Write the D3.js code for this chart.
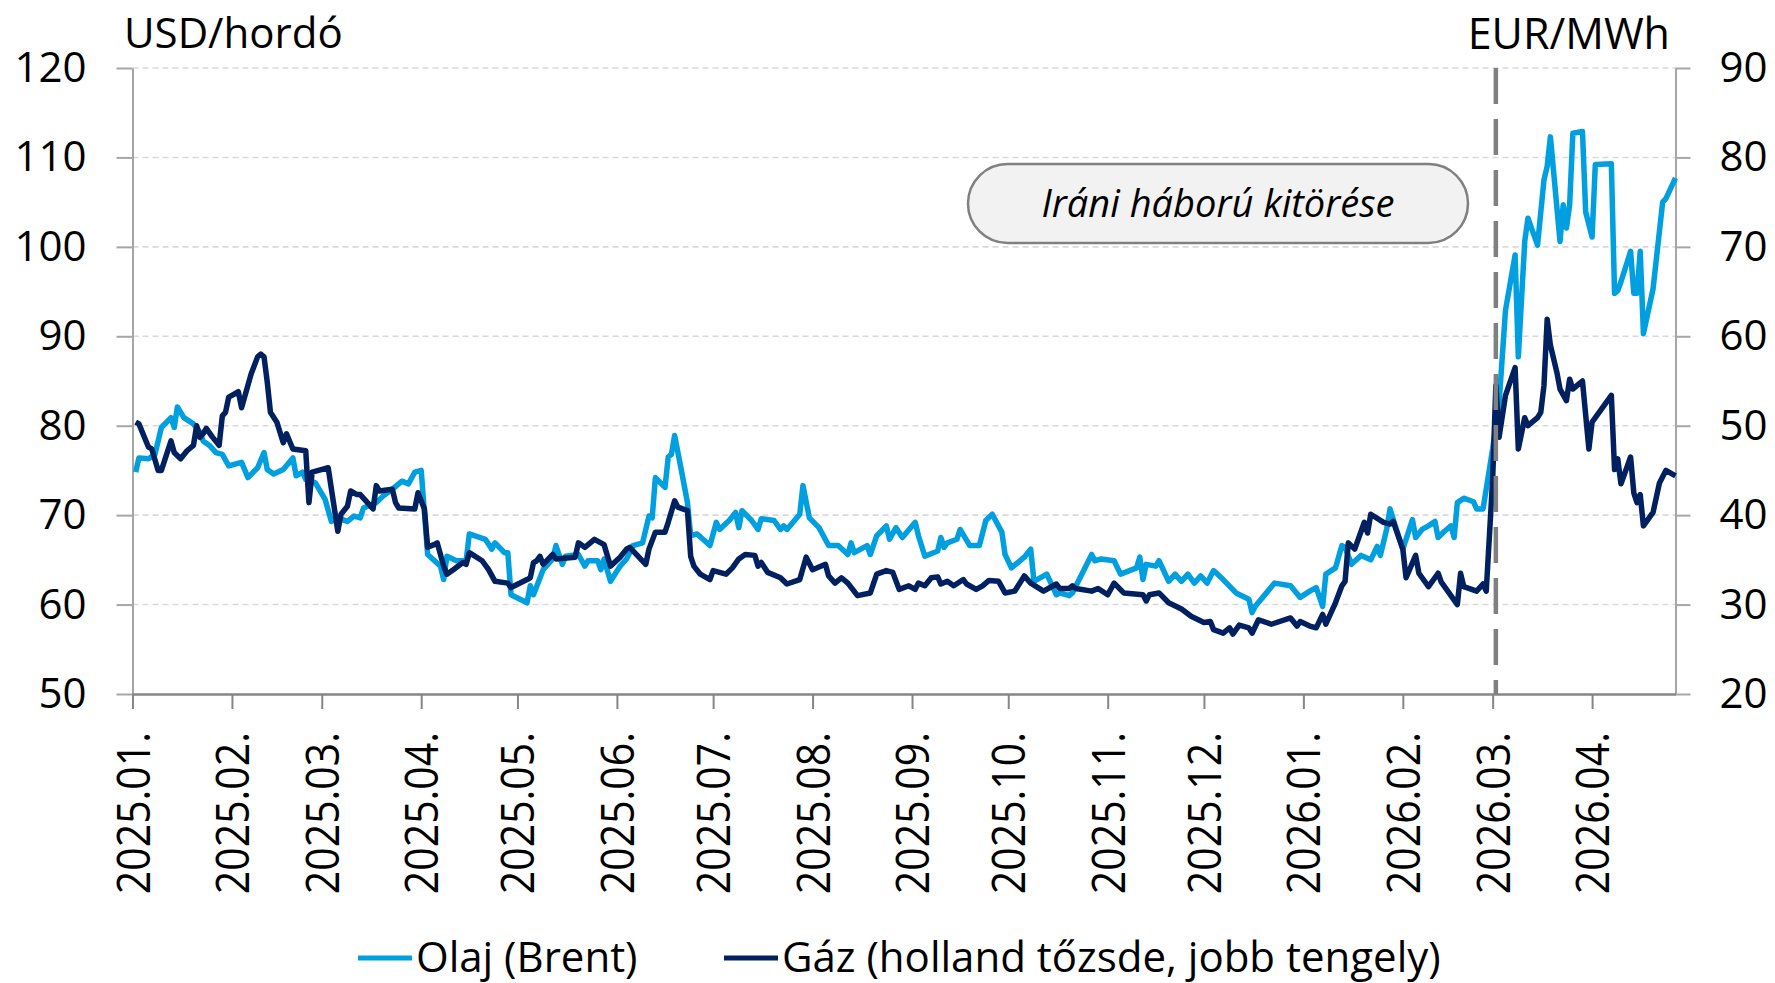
<!DOCTYPE html>
<html>
<head>
<meta charset="utf-8">
<script src="https://cdn.jsdelivr.net/npm/d3@7"></script>
<style>
  body { margin: 0; background: #fff; }
  svg { display: block; font-family: "Open Sans", sans-serif; }
</style>
</head>
<body>
<div id="chart"></div>
<script>
// Brent, USD/hordó (left axis)
const oilData = [
  ["2025-01-02",74.8],["2025-01-03",76.4],["2025-01-06",76.3],["2025-01-08",76.8],["2025-01-10",79.8],
  ["2025-01-13",80.9],["2025-01-14",79.8],["2025-01-15",82.1],["2025-01-17",80.9],["2025-01-20",80.2],
  ["2025-01-22",79.3],["2025-01-23",78.3],["2025-01-25",77.8],["2025-01-27",77.0],["2025-01-29",76.8],
  ["2025-01-31",75.5],["2025-02-04",75.9],["2025-02-06",74.2],["2025-02-09",75.3],["2025-02-11",77.0],
  ["2025-02-12",75.1],["2025-02-14",74.6],["2025-02-17",75.1],["2025-02-20",76.4],["2025-02-21",74.4],
  ["2025-02-23",74.8],["2025-02-24",74.0],["2025-02-27",73.6],["2025-03-02",71.8],["2025-03-04",69.3],
  ["2025-03-06",69.7],["2025-03-09",69.3],["2025-03-11",69.9],["2025-03-13",69.7],["2025-03-14",70.8],
  ["2025-03-18",71.4],["2025-03-20",72.1],["2025-03-23",72.9],["2025-03-26",73.8],["2025-03-28",73.5],
  ["2025-03-30",74.8],["2025-04-01",75.0],["2025-04-03",65.6],["2025-04-07",64.3],["2025-04-08",62.8],
  ["2025-04-09",65.4],["2025-04-12",64.9],["2025-04-15",64.9],["2025-04-16",67.9],["2025-04-21",67.3],
  ["2025-04-23",66.2],["2025-04-24",66.9],["2025-04-27",65.8],["2025-04-28",65.8],["2025-04-29",61.1],
  ["2025-05-04",60.2],["2025-05-05",62.1],["2025-05-06",61.1],["2025-05-09",63.9],["2025-05-12",65.1],
  ["2025-05-13",66.6],["2025-05-15",64.5],["2025-05-16",65.4],["2025-05-20",65.6],["2025-05-22",64.3],
  ["2025-05-23",64.9],["2025-05-26",64.9],["2025-05-27",63.9],["2025-05-28",65.1],["2025-05-30",62.6],
  ["2025-06-02",64.3],["2025-06-04",65.1],["2025-06-05",65.8],["2025-06-06",66.6],["2025-06-09",66.9],
  ["2025-06-11",69.9],["2025-06-12",69.7],["2025-06-13",74.2],["2025-06-16",73.1],["2025-06-17",76.5],
  ["2025-06-18",76.8],["2025-06-19",78.9],["2025-06-21",75.2],["2025-06-23",71.4],["2025-06-24",67.7],
  ["2025-06-26",67.9],["2025-06-30",66.6],["2025-07-02",69.2],["2025-07-03",68.4],["2025-07-06",69.4],
  ["2025-07-08",70.3],["2025-07-09",68.6],["2025-07-10",70.5],["2025-07-13",69.4],["2025-07-15",68.4],
  ["2025-07-16",69.6],["2025-07-20",69.4],["2025-07-22",68.4],["2025-07-23",68.8],["2025-07-24",68.4],
  ["2025-07-28",70.1],["2025-07-29",73.3],["2025-07-31",69.7],["2025-08-03",68.6],["2025-08-06",66.6],
  ["2025-08-09",66.6],["2025-08-12",65.6],["2025-08-13",66.9],["2025-08-14",65.8],["2025-08-18",66.6],
  ["2025-08-19",65.6],["2025-08-21",67.7],["2025-08-24",68.8],["2025-08-25",67.3],["2025-08-27",68.6],
  ["2025-08-29",67.5],["2025-09-02",69.2],["2025-09-03",67.7],["2025-09-05",65.4],["2025-09-09",66.0],
  ["2025-09-10",67.5],["2025-09-11",66.4],["2025-09-12",66.9],["2025-09-15",67.3],["2025-09-16",68.4],
  ["2025-09-19",66.6],["2025-09-22",66.6],["2025-09-24",69.4],["2025-09-26",70.1],["2025-09-29",68.1],
  ["2025-09-30",65.6],["2025-10-02",64.1],["2025-10-06",65.3],["2025-10-08",66.2],["2025-10-09",62.6],
  ["2025-10-13",63.4],["2025-10-16",61.1],["2025-10-17",61.3],["2025-10-20",61.0],["2025-10-21",61.3],
  ["2025-10-27",65.6],["2025-10-28",64.9],["2025-10-30",65.1],["2025-11-03",64.9],["2025-11-05",63.4],
  ["2025-11-10",64.1],["2025-11-11",65.3],["2025-11-12",62.8],["2025-11-13",64.5],["2025-11-16",64.3],
  ["2025-11-17",64.9],["2025-11-20",62.6],["2025-11-22",63.4],["2025-11-24",62.6],["2025-11-26",63.4],
  ["2025-11-28",62.4],["2025-11-30",63.2],["2025-12-02",62.4],["2025-12-04",63.8],["2025-12-07",62.8],
  ["2025-12-11",61.3],["2025-12-15",60.6],["2025-12-16",59.1],["2025-12-17",59.8],["2025-12-23",62.4],
  ["2025-12-28",62.1],["2025-12-31",60.8],["2026-01-03",61.5],["2026-01-05",61.9],["2026-01-07",59.8],
  ["2026-01-08",63.4],["2026-01-11",64.1],["2026-01-13",66.6],["2026-01-14",66.4],["2026-01-16",64.5],
  ["2026-01-19",65.5],["2026-01-22",65.0],["2026-01-24",66.5],["2026-01-25",65.5],["2026-01-27",68.5],
  ["2026-01-28",70.7],["2026-01-30",68.4],["2026-02-01",66.2],["2026-02-04",69.5],["2026-02-05",67.5],
  ["2026-02-07",68.4],["2026-02-09",68.8],["2026-02-11",69.3],["2026-02-12",67.5],["2026-02-14",68.2],
  ["2026-02-16",68.8],["2026-02-17",67.5],["2026-02-18",71.4],["2026-02-20",71.9],["2026-02-23",71.5],
  ["2026-02-24",70.7],["2026-02-26",70.7],["2026-03-01",77.4],["2026-03-02",80.0],["2026-03-03",82.5],
  ["2026-03-05",92.9],["2026-03-08",99.1],["2026-03-09",87.7],["2026-03-11",100.6],["2026-03-12",103.2],
  ["2026-03-15",100.2],["2026-03-17",107.5],["2026-03-18",109.0],["2026-03-19",112.3],["2026-03-22",100.6],
  ["2026-03-23",104.7],["2026-03-24",102.1],["2026-03-25",104.7],["2026-03-26",112.7],["2026-03-29",112.9],
  ["2026-03-30",103.9],["2026-04-01",101.1],["2026-04-02",109.2],["2026-04-07",109.3],["2026-04-08",94.8],
  ["2026-04-09",95.1],["2026-04-10",96.1],["2026-04-13",99.5],["2026-04-14",94.8],["2026-04-15",94.8],
  ["2026-04-16",99.5],["2026-04-17",90.3],["2026-04-20",95.3],["2026-04-23",105.0],["2026-04-24",105.4],
  ["2026-04-27",107.7]
];

// Dutch TTF gas, EUR/MWh (right axis)
const gasData = [
  ["2025-01-02",50.4],["2025-01-03",50.2],["2025-01-06",47.6],["2025-01-07",47.4],["2025-01-09",45.0],
  ["2025-01-10",45.0],["2025-01-13",48.3],["2025-01-14",47.0],["2025-01-16",46.3],["2025-01-18",47.2],
  ["2025-01-20",47.8],["2025-01-21",50.0],["2025-01-22",48.7],["2025-01-23",49.1],["2025-01-24",49.7],
  ["2025-01-26",48.7],["2025-01-28",47.8],["2025-01-29",51.1],["2025-01-30",51.5],["2025-01-31",53.2],
  ["2025-02-01",53.4],["2025-02-03",53.8],["2025-02-04",52.0],["2025-02-07",55.8],["2025-02-09",57.7],
  ["2025-02-10",58.0],["2025-02-11",57.7],["2025-02-12",54.9],["2025-02-13",51.5],["2025-02-15",50.4],
  ["2025-02-17",48.1],["2025-02-18",49.1],["2025-02-20",47.4],["2025-02-24",47.2],["2025-02-25",41.4],
  ["2025-02-26",44.8],["2025-02-28",45.0],["2025-03-03",45.3],["2025-03-06",38.2],["2025-03-07",40.1],
  ["2025-03-09",41.0],["2025-03-10",42.7],["2025-03-12",42.3],["2025-03-13",42.3],["2025-03-17",40.7],
  ["2025-03-18",43.3],["2025-03-19",42.7],["2025-03-23",42.9],["2025-03-24",41.4],["2025-03-25",40.8],
  ["2025-03-30",40.7],["2025-03-31",42.5],["2025-04-02",40.7],["2025-04-03",36.4],["2025-04-05",36.7],
  ["2025-04-06",36.9],["2025-04-08",34.3],["2025-04-09",33.4],["2025-04-11",33.9],["2025-04-14",34.7],
  ["2025-04-15",34.5],["2025-04-16",35.8],["2025-04-20",34.9],["2025-04-22",33.9],["2025-04-24",32.6],
  ["2025-04-28",32.4],["2025-04-29",31.9],["2025-05-04",32.8],["2025-05-05",33.0],["2025-05-06",34.7],
  ["2025-05-07",34.9],["2025-05-08",35.4],["2025-05-09",34.5],["2025-05-12",35.6],["2025-05-13",35.1],
  ["2025-05-19",35.3],["2025-05-20",36.9],["2025-05-22",36.4],["2025-05-25",37.3],["2025-05-28",36.7],
  ["2025-05-30",34.3],["2025-06-02",35.3],["2025-06-04",36.2],["2025-06-05",36.4],["2025-06-10",34.5],
  ["2025-06-11",36.2],["2025-06-13",38.1],["2025-06-16",38.1],["2025-06-17",39.2],["2025-06-19",41.6],
  ["2025-06-20",40.9],["2025-06-23",40.5],["2025-06-24",35.4],["2025-06-25",34.3],["2025-06-27",33.4],
  ["2025-06-30",32.8],["2025-07-01",33.8],["2025-07-05",33.4],["2025-07-07",34.1],["2025-07-09",35.1],
  ["2025-07-11",35.6],["2025-07-14",35.5],["2025-07-15",34.3],["2025-07-16",34.7],["2025-07-18",33.6],
  ["2025-07-22",33.0],["2025-07-24",32.3],["2025-07-28",32.8],["2025-07-30",35.3],["2025-08-01",33.9],
  ["2025-08-05",34.5],["2025-08-06",33.2],["2025-08-08",32.4],["2025-08-10",33.0],["2025-08-12",32.4],
  ["2025-08-15",31.0],["2025-08-19",31.3],["2025-08-21",33.4],["2025-08-24",33.8],["2025-08-26",33.6],
  ["2025-08-28",31.7],["2025-08-31",32.1],["2025-09-02",31.7],["2025-09-03",32.4],["2025-09-05",32.1],
  ["2025-09-07",33.0],["2025-09-09",33.1],["2025-09-10",32.3],["2025-09-12",32.6],["2025-09-14",32.1],
  ["2025-09-17",32.8],["2025-09-18",32.3],["2025-09-21",31.7],["2025-09-23",32.1],["2025-09-25",32.7],
  ["2025-09-28",32.6],["2025-09-30",31.3],["2025-10-03",31.5],["2025-10-06",33.2],["2025-10-08",32.4],
  ["2025-10-12",31.5],["2025-10-16",32.3],["2025-10-17",31.8],["2025-10-20",31.8],["2025-10-21",32.1],
  ["2025-10-22",31.8],["2025-10-27",31.5],["2025-10-29",31.8],["2025-11-01",31.1],["2025-11-03",32.4],
  ["2025-11-06",31.3],["2025-11-12",31.1],["2025-11-13",30.4],["2025-11-14",31.1],["2025-11-17",31.3],
  ["2025-11-20",30.2],["2025-11-24",29.5],["2025-11-27",28.7],["2025-12-01",28.0],["2025-12-03",28.1],
  ["2025-12-04",27.2],["2025-12-07",26.8],["2025-12-09",27.4],["2025-12-10",26.7],["2025-12-12",27.7],
  ["2025-12-15",27.4],["2025-12-16",26.8],["2025-12-18",28.3],["2025-12-22",27.8],["2025-12-28",28.5],
  ["2025-12-30",27.6],["2025-12-31",28.1],["2026-01-03",27.6],["2026-01-05",27.4],["2026-01-07",28.9],
  ["2026-01-08",27.8],["2026-01-11",30.2],["2026-01-13",32.1],["2026-01-14",32.6],["2026-01-15",36.9],
  ["2026-01-17",36.2],["2026-01-20",39.2],["2026-01-21",38.0],["2026-01-22",40.1],["2026-01-26",39.2],
  ["2026-01-28",39.0],["2026-01-29",39.3],["2026-02-01",36.2],["2026-02-02",33.0],["2026-02-05",35.5],
  ["2026-02-06",33.5],["2026-02-09",32.0],["2026-02-12",33.5],["2026-02-13",32.5],["2026-02-16",31.0],
  ["2026-02-18",30.0],["2026-02-19",33.5],["2026-02-20",32.0],["2026-02-24",31.5],["2026-02-26",32.3],
  ["2026-02-27",31.5],["2026-03-01",44.0],["2026-03-02",54.5],["2026-03-03",48.7],["2026-03-05",53.4],
  ["2026-03-08",56.5],["2026-03-09",47.4],["2026-03-11",50.9],["2026-03-12",50.0],["2026-03-15",50.9],
  ["2026-03-16",51.5],["2026-03-17",54.5],["2026-03-18",61.9],["2026-03-19",59.0],["2026-03-21",56.0],
  ["2026-03-22",54.1],["2026-03-24",52.8],["2026-03-25",55.2],["2026-03-26",54.1],["2026-03-28",54.7],
  ["2026-03-29",55.0],["2026-03-31",47.4],["2026-04-01",50.4],["2026-04-07",53.4],["2026-04-08",45.1],
  ["2026-04-09",46.3],["2026-04-10",43.5],["2026-04-13",46.5],["2026-04-14",42.5],["2026-04-15",41.4],
  ["2026-04-16",42.3],["2026-04-17",38.8],["2026-04-20",40.3],["2026-04-22",43.6],["2026-04-24",45.0],
  ["2026-04-27",44.4]
];

const leftTicks = [50, 60, 70, 80, 90, 100, 110, 120];
const rightTicks = [20, 30, 40, 50, 60, 70, 80, 90];
const monthTicks = ["2025-01-01","2025-02-01","2025-03-01","2025-04-01","2025-05-01","2025-06-01",
  "2025-07-01","2025-08-01","2025-09-01","2025-10-01","2025-11-01","2025-12-01",
  "2026-01-01","2026-02-01","2026-03-01","2026-04-01"];
const seriesNames = ["Olaj (Brent)", "Gáz (holland tőzsde, jobb tengely)"];
const leftUnit = "USD/hordó";
const rightUnit = "EUR/MWh";
const eventLabel = "Iráni háború kitörése";
const eventDate = "2026-03-02";

const width = 1775, height = 983;
const oilColor = "#009fdf", gasColor = "#002060";
const parse = d3.timeParse("%Y-%m-%d");

const svg = d3.select("#chart").append("svg")
  .attr("width", width)
  .attr("height", height);

const x = d3.scaleTime()
  .domain([parse("2025-01-01"), parse("2026-04-27")])
  .range([132.5, 1675.5]);
const yLeft = d3.scaleLinear().domain([50, 120]).range([694, 68]);
const yRight = d3.scaleLinear().domain([20, 90]).range([694, 68]);

// dashed gridlines
svg.append("g")
  .selectAll("line")
  .data(leftTicks.filter(d => d > 50))
  .enter()
  .append("line")
  .attr("x1", 132.5)
  .attr("x2", 1675.5)
  .attr("y1", d => yLeft(d))
  .attr("y2", d => yLeft(d))
  .attr("stroke", "#d9d9d9")
  .attr("stroke-width", 1.6)
  .attr("stroke-dasharray", "6,4");

// left axis
const gLeft = svg.append("g")
  .attr("transform", "translate(132.5,0)")
  .call(d3.axisLeft(yLeft).tickValues(leftTicks).tickSize(16).tickSizeOuter(0).tickPadding(30).tickFormat(d3.format("d")));

// right axis
const gRight = svg.append("g")
  .attr("transform", "translate(1675.5,0)")
  .call(d3.axisRight(yRight).tickValues(rightTicks).tickSize(15).tickSizeOuter(0).tickPadding(29).tickFormat(d3.format("d")));

[gLeft, gRight].forEach(g => {
  g.select(".domain").attr("stroke", "#a6a6a6").attr("stroke-width", 2);
  g.selectAll(".tick line").attr("stroke", "#a6a6a6").attr("stroke-width", 2);
  g.selectAll(".tick text").attr("font-size", 42).attr("fill", "#000")
    .style("font-family", "'Open Sans', sans-serif");
});

// bottom axis with vertical labels
const gBottom = svg.append("g")
  .attr("transform", "translate(0,694)")
  .call(d3.axisBottom(x).tickValues(monthTicks.map(parse)).tickSize(15).tickSizeOuter(0)
    .tickFormat(d3.timeFormat("%Y.%m.")));
gBottom.select(".domain").attr("stroke", "#868686").attr("stroke-width", 2.5);
gBottom.selectAll(".tick line").attr("stroke", "#868686").attr("stroke-width", 2);
gBottom.selectAll(".tick text")
  .attr("transform", "rotate(-90) scale(1,1.12)")
  .attr("text-anchor", "end")
  .attr("x", -38)
  .attr("y", 0)
  .attr("dy", "0.36em")
  .attr("font-size", 41)
  .attr("fill", "#000")
  .style("font-family", "'Open Sans', sans-serif");

// series
const line = scale => d3.line()
  .x(d => x(parse(d[0])))
  .y(d => scale(d[1]));

svg.append("path")
  .datum(oilData)
  .attr("d", line(yLeft))
  .attr("fill", "none")
  .attr("stroke", oilColor)
  .attr("stroke-width", 5.5)
  .attr("stroke-linejoin", "round");

svg.append("path")
  .datum(gasData)
  .attr("d", line(yRight))
  .attr("fill", "none")
  .attr("stroke", gasColor)
  .attr("stroke-width", 5.5)
  .attr("stroke-linejoin", "round");

// event marker
svg.append("line")
  .attr("x1", x(parse(eventDate)))
  .attr("x2", x(parse(eventDate)))
  .attr("y1", 68)
  .attr("y2", 694)
  .attr("stroke", "#808080")
  .attr("stroke-width", 4.5)
  .attr("stroke-dasharray", "36,15");

svg.append("rect")
  .attr("x", 968)
  .attr("y", 164)
  .attr("width", 500)
  .attr("height", 79)
  .attr("rx", 39.5)
  .attr("fill", "#f2f2f2")
  .attr("stroke", "#808080")
  .attr("stroke-width", 2.5);

svg.append("text")
  .attr("x", 1218)
  .attr("y", 217)
  .attr("text-anchor", "middle")
  .attr("font-size", 38)
  .attr("font-style", "italic")
  .attr("fill", "#000")
  .text(eventLabel);

// unit titles
svg.append("text")
  .attr("x", 124)
  .attr("y", 48)
  .attr("font-size", 42)
  .text(leftUnit);

svg.append("text")
  .attr("x", 1670)
  .attr("y", 49)
  .attr("text-anchor", "end")
  .attr("font-size", 43)
  .text(rightUnit);

// legend
const legend = [
  { name: seriesNames[0], color: oilColor, x0: 358 },
  { name: seriesNames[1], color: gasColor, x0: 724 }
];
const lg = svg.append("g")
  .selectAll("g")
  .data(legend)
  .enter()
  .append("g");
lg.append("line")
  .attr("x1", d => d.x0)
  .attr("x2", d => d.x0 + 54)
  .attr("y1", 958)
  .attr("y2", 958)
  .attr("stroke", d => d.color)
  .attr("stroke-width", 5);
lg.append("text")
  .attr("x", d => d.x0 + 58)
  .attr("y", 972)
  .attr("font-size", 42)
  .attr("fill", "#000")
  .text(d => d.name);
</script>
</body>
</html>
